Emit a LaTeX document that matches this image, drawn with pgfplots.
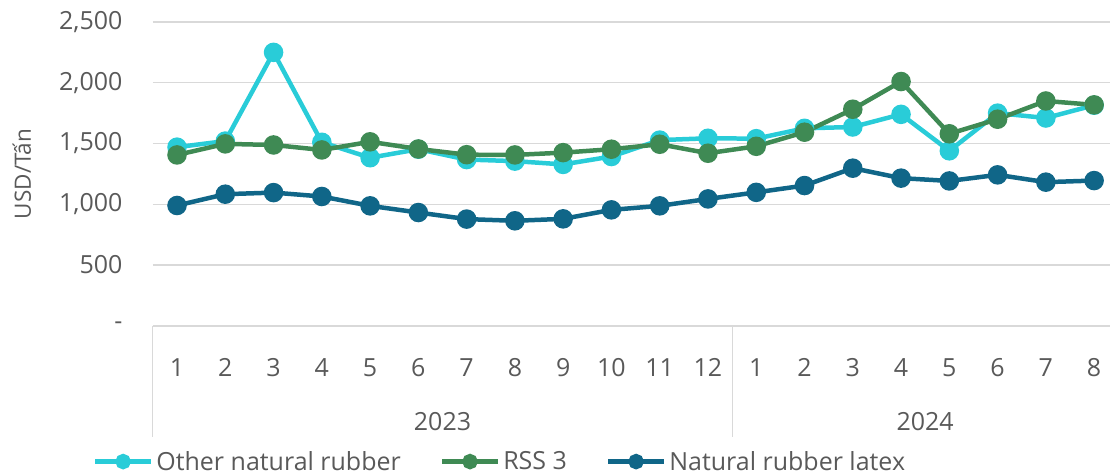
\documentclass[border=0pt]{standalone}
\usepackage{pgfplots}
\pgfplotsset{compat=1.18}
\usepackage{fontspec}
\setmainfont{Open Sans}
\definecolor{cyanc}{HTML}{29CCD8}
\definecolor{greenc}{HTML}{3F8A54}
\definecolor{bluec}{HTML}{106688}
\definecolor{txt}{HTML}{595959}
\definecolor{gridc}{HTML}{D9D9D9}
\begin{document}
\begin{tikzpicture}[font=\fontsize{25}{29}\selectfont]
\begin{axis}[
  scale only axis, width=958pt, height=304pt,
  xmin=0.5, xmax=20.334, ymin=0, ymax=2500,
  clip=false,
  axis x line*=bottom, axis y line*=left,
  y axis line style={draw=none},
  x axis line style={draw=gridc, line width=1.2pt, -},
  major tick length=0pt,
  ymajorgrids, grid style={gridc, line width=1.5pt},
  ytick={0,500,1000,1500,2000,2500},
  yticklabels={{-},{500},{1,000},{1,500},{2,000},{2,500}},
  yticklabel style={text=txt, xshift=-27pt},
  xtick={1,...,20},
  xticklabels={1,2,3,4,5,6,7,8,9,10,11,12,1,2,3,4,5,6,7,8},
  xticklabel style={text=txt, yshift=-29pt},
  ylabel={USD/Tấn},
  ylabel style={at={(axis description cs:-0.137,0.5)}, anchor=center, rotate=0, text=txt, font=\fontsize{22.5}{26}\selectfont},
  legend columns=3,
  legend style={at={(-0.066,-0.447)}, anchor=west, draw=none, fill=none,
    nodes={inner xsep=3pt, text=txt},
    /tikz/every even column/.append style={column sep=36pt}},
  legend cell align=left,
  legend image code/.code={\draw[mark repeat=2,mark phase=2,#1, mark size=5.5pt] plot coordinates {(0pt,0pt) (28pt,0pt) (56pt,0pt)};},
  every axis plot/.append style={line width=4.5pt, mark=*, mark size=7.5pt},
]
\addplot[cyanc, mark options={fill=cyanc, draw=cyanc}] coordinates {
(1,1470)(2,1520)(3,2250)(4,1510)(5,1383)(6,1453)(7,1368)(8,1355)(9,1328)(10,1393)
(11,1528)(12,1543)(13,1540)(14,1625)(15,1636)(16,1740)(17,1440)(18,1750)(19,1710)(20,1815)};
\addlegendentry{Other natural rubber}
\addplot[greenc, mark options={fill=greenc, draw=greenc}] coordinates {
(1,1406)(2,1497)(3,1488)(4,1447)(5,1514)(6,1455)(7,1408)(8,1406)(9,1425)(10,1453)
(11,1494)(12,1420)(13,1477)(14,1593)(15,1782)(16,2010)(17,1580)(18,1700)(19,1850)(20,1818)};
\addlegendentry{RSS 3}
\addplot[bluec, mark options={fill=bluec, draw=bluec}] coordinates {
(1,990)(2,1083)(3,1096)(4,1064)(5,987)(6,932)(7,878)(8,864)(9,880)(10,954)
(11,987)(12,1044)(13,1098)(14,1154)(15,1297)(16,1215)(17,1192)(18,1242)(19,1182)(20,1195)};
\addlegendentry{Natural rubber latex}
\draw[gridc, line width=1.2pt] (axis cs:0.5,0) -- ([yshift=-111pt]axis cs:0.5,0);
\draw[gridc, line width=1.2pt] (axis cs:12.5,0) -- ([yshift=-111pt]axis cs:12.5,0);
\node[text=txt] at ([yshift=-96pt]axis cs:6.5,0) {2023};
\node[text=txt] at ([yshift=-96pt]axis cs:16.5,0) {2024};
\path (rel axis cs:-0.1597,1.0724) (rel axis cs:1,-0.4901);
\end{axis}
\end{tikzpicture}
\end{document}
